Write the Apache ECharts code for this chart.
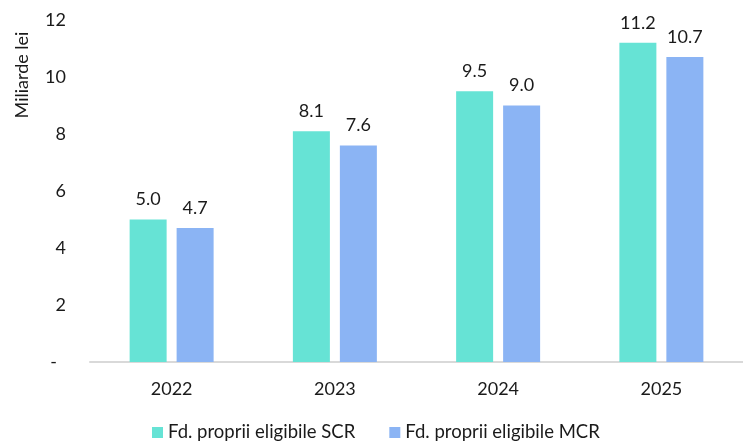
<!DOCTYPE html>
<html>
<head>
<meta charset="utf-8">
<script src="https://cdn.jsdelivr.net/npm/echarts@6/dist/echarts.min.js"></script>
<style>
  html, body { margin: 0; padding: 0; background: #fff; }
  #chart { width: 743px; height: 448px; }
</style>
</head>
<body>
<div id="chart"></div>
<script>
const years = ["2022", "2023", "2024", "2025"];
const scrValues = [5.0, 8.1, 9.5, 11.2];
const mcrValues = [4.7, 7.6, 9.0, 10.7];
const seriesNames = ["Fd. proprii eligibile SCR", "Fd. proprii eligibile MCR"];

const font = "Lato, 'Open Sans', sans-serif";
const textColor = "#1a1a1a";

const chart = echarts.init(document.getElementById("chart"), null, { renderer: "canvas" });

function barSeries(name, data, color) {
  return {
    name: name,
    type: "bar",
    data: data,
    barWidth: 37,
    barGap: "27%",
    itemStyle: { color: color },
    label: {
      show: true,
      position: "top",
      distance: 11,
      color: textColor,
      fontFamily: font,
      fontSize: 18,
      formatter: (p) => p.value.toFixed(1),
    },
  };
}

chart.setOption({
  animation: false,
  grid: { left: 90, top: 20, width: 660, height: 342, containLabel: false },
  legend: {
    bottom: 1,
    left: 147,
    itemWidth: 11,
    itemHeight: 11,
    itemGap: 34,
    icon: "rect",
    textStyle: { color: textColor, fontFamily: font, fontSize: 18.5 },
    data: seriesNames,
  },
  graphic: [
    {
      type: "text",
      x: 22,
      y: 75,
      rotation: Math.PI / 2,
      style: {
        text: "Miliarde lei",
        fill: textColor,
        font: "18px " + font,
        textAlign: "center",
        textVerticalAlign: "middle",
      },
    },
  ],
  xAxis: {
    type: "category",
    data: years,
    axisLine: { lineStyle: { color: "#d9d9d9", width: 2 } },
    axisTick: { show: false },
    axisLabel: { color: textColor, fontFamily: font, fontSize: 18, margin: 18 },
  },
  yAxis: {
    type: "value",
    min: 0,
    max: 12,
    interval: 2,
    splitLine: { show: false },
    axisLine: { show: false },
    axisTick: { show: false },
    axisLabel: {
      color: textColor,
      fontFamily: font,
      fontSize: 18,
      margin: 24,
      formatter: (v) => (v === 0 ? "-\u2002" : String(v)),
    },
  },
  series: [
    barSeries(seriesNames[0], scrValues, "#66E3D5"),
    barSeries(seriesNames[1], mcrValues, "#8BB4F4"),
  ],
});
</script>
</body>
</html>
